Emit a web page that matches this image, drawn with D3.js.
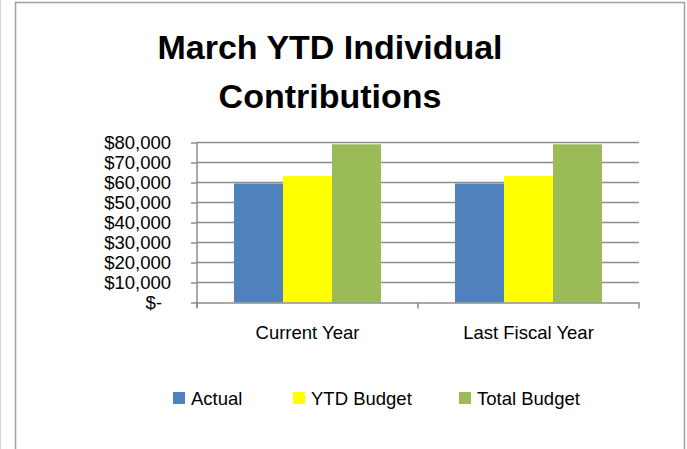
<!DOCTYPE html>
<html>
<head>
<meta charset="utf-8">
<script src="https://cdn.jsdelivr.net/npm/d3@7"></script>
<style>
  body { margin: 0; background: #fff; }
  text { font-family: "Liberation Sans", Arial, sans-serif; }
</style>
</head>
<body>
<script>
// data
var categories = ["Current Year", "Last Fiscal Year"];
var seriesNames = ["Actual", "YTD Budget", "Total Budget"];
var actual = [59500, 59500];
var ytdBudget = [63200, 63200];
var totalBudget = [79100, 79100];
var yTicks = [0, 10000, 20000, 30000, 40000, 50000, 60000, 70000, 80000];
var colors = ["#4F81BD", "#FFFF00", "#9BBB59"];
var titleLines = ["March YTD Individual", "Contributions"];

var w = 687, h = 449;
var plot = { left: 197, right: 639, top: 142.5, bottom: 302.5 };
var labelSize = "18.5px";

var svg = d3.select("body").append("svg")
    .attr("width", w)
    .attr("height", h);

// outer chart frame
svg.append("rect")
   .attr("x", 15.5).attr("y", 2.5)
   .attr("width", 669).attr("height", 460)
   .attr("fill", "#fff")
   .attr("stroke", "#a0a0a0")
   .attr("stroke-width", 1.5);
svg.append("line")
   .attr("x1", 0.5).attr("x2", 0.5).attr("y1", 0).attr("y2", h)
   .attr("stroke", "#d8d8d8");

// title
svg.append("text")
   .selectAll("tspan")
   .data(titleLines)
   .enter()
   .append("tspan")
   .attr("x", 330)
   .attr("y", function(d, i) { return 59 + i * 49; })
   .attr("text-anchor", "middle")
   .attr("font-size", "34px")
   .attr("font-weight", "bold")
   .text(function(d) { return d; });

// scales
var x0 = d3.scaleBand()
    .domain(categories)
    .range([plot.left, plot.right])
    .paddingInner(0.335)
    .paddingOuter(0.1675);
var x1 = d3.scaleBand()
    .domain(seriesNames)
    .range([0, x0.bandwidth()]);
var y = d3.scaleLinear()
    .domain([0, 80000])
    .range([plot.bottom, plot.top]);

var fmt = d3.format(",");

// gridlines
svg.append("g")
   .selectAll("line")
   .data(yTicks.slice(1))
   .enter()
   .append("line")
   .attr("x1", plot.left).attr("x2", plot.right)
   .attr("y1", function(d) { return y(d); })
   .attr("y2", function(d) { return y(d); })
   .attr("stroke", "#8c8c8c")
   .attr("stroke-width", 1.5);

// bars
var rows = categories.map(function(c, i) {
  return { cat: c, vals: [actual[i], ytdBudget[i], totalBudget[i]] };
});
svg.append("g")
   .selectAll("g")
   .data(rows)
   .enter()
   .append("g")
   .attr("transform", function(d) { return "translate(" + x0(d.cat) + ",0)"; })
   .selectAll("rect")
   .data(function(d) { return d.vals.map(function(v, j) { return { name: seriesNames[j], v: v, j: j }; }); })
   .enter()
   .append("rect")
   .attr("x", function(d) { return x1(d.name); })
   .attr("width", x1.bandwidth())
   .attr("y", function(d) { return y(d.v); })
   .attr("height", function(d) { return plot.bottom - y(d.v); })
   .attr("fill", function(d) { return colors[d.j]; });

// y axis
var yAxis = d3.axisLeft(y)
    .tickValues(yTicks)
    .tickSize(6)
    .tickPadding(20)
    .tickFormat(function(d) { return d === 0 ? "$-" : "$" + fmt(d); });
var gy = svg.append("g")
   .attr("transform", "translate(" + plot.left + ",0)")
   .call(yAxis);
gy.select(".domain").attr("stroke", "#8c8c8c").attr("stroke-width", 1.5).attr("d", "M0," + plot.top + "V" + (plot.bottom + 5));
gy.selectAll(".tick line").attr("stroke", "#8c8c8c").attr("stroke-width", 1.5);
gy.selectAll(".tick text")
  .attr("font-size", labelSize)
  .attr("font-family", "'Liberation Sans', Arial, sans-serif")
  .attr("fill", "#000")
  .attr("dx", function(d) { return d === 0 ? -9 : 0; });

// x axis
var xAxis = d3.axisBottom(x0)
    .tickSize(0)
    .tickPadding(23);
var gx = svg.append("g")
   .attr("transform", "translate(0," + plot.bottom + ")")
   .call(xAxis);
gx.select(".domain").attr("stroke", "#8c8c8c").attr("stroke-width", 1.5);
gx.selectAll(".tick text")
  .attr("font-size", labelSize)
  .attr("font-family", "'Liberation Sans', Arial, sans-serif")
  .attr("fill", "#000");
// category separators
gx.selectAll("line.sep")
  .data([plot.left, (plot.left + plot.right) / 2, plot.right])
  .enter()
  .append("line")
  .attr("class", "sep")
  .attr("x1", function(d) { return d; }).attr("x2", function(d) { return d; })
  .attr("y1", 0).attr("y2", 6)
  .attr("stroke", "#8c8c8c")
  .attr("stroke-width", 1.5);

// legend
var legendX = [173, 293, 459];
var lg = svg.append("g")
   .selectAll("g")
   .data(seriesNames)
   .enter()
   .append("g")
   .attr("transform", function(d, i) { return "translate(" + legendX[i] + ",392)"; });
lg.append("rect")
  .attr("width", 12).attr("height", 12)
  .attr("fill", function(d, i) { return colors[i]; });
lg.append("text")
  .attr("x", 18).attr("y", 12.5)
  .attr("font-size", labelSize)
  .text(function(d) { return d; });
</script>
</body>
</html>
